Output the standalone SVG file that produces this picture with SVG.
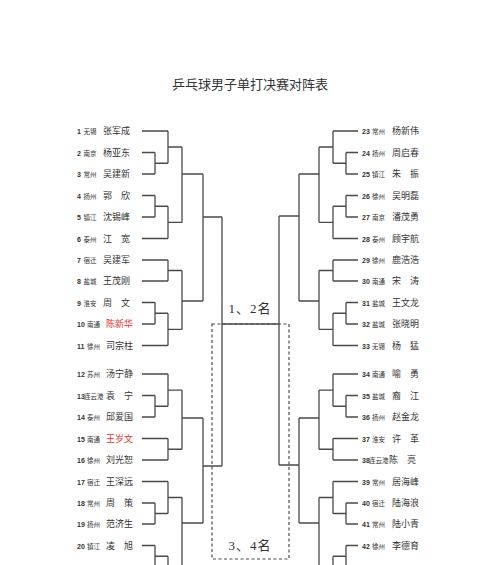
<svg xmlns="http://www.w3.org/2000/svg" width="500" height="565" viewBox="0 0 500 565">
<style>
text{font-family:"Noto Sans CJK SC","Liberation Sans",sans-serif;fill:#333}
.n{font-family:"Liberation Sans","Noto Sans CJK SC",sans-serif;font-weight:bold;font-size:7px}
.c{font-size:6.5px}
.m{font-size:9px}
.red{fill:#e8322d}
.title{font-size:13px;text-anchor:middle}
.lab{font-family:"Liberation Serif","Noto Sans CJK SC",serif;font-size:13px;text-anchor:middle;letter-spacing:1px}
.ln{fill:none;stroke:#4a4a4a;stroke-width:1.3}
.dash{fill:none;stroke:#4a4a4a;stroke-width:1.2;stroke-dasharray:3 2.5}
</style>
<rect width="500" height="565" fill="#fff"/>
<text class="title" x="250" y="89">乒乓球男子单打决赛对阵表</text>
<g id="connectors">
<path class="ln" d="M142 131H168 M142 152.5H155 M142 174H155 M155 152.5V174 M155 163.25H168 M168 131V163.25 M168 147H182
M142 195.5H155 M142 217H155 M155 195.5V217 M155 206.25H168 M142 238.5H168 M168 206.25V238.5 M168 222.4H182
M182 147V222.4 M182 174H203
M142 260H168 M142 281H168 M168 260V281 M168 270.5H182
M142 302.5H155 M142 324H155 M155 302.5V324 M155 313.25H168 M142 345.5H168 M168 313.25V345.5 M168 329.4H182
M182 270.5V329.4 M182 301H203
M203 174V301 M203 217H222
M142 374H168 M142 395.5H155 M142 417H155 M155 395.5V417 M155 406.25H168 M168 374V406.25 M168 390.1H182
M142 438.5H168 M142 460H168 M168 438.5V460 M168 449.25H182
M182 390.1V449.25 M182 418H203
M142 481.5H168 M142 503H155 M142 524H155 M155 503V524 M155 513.5H168 M168 481.5V513.5 M168 497.5H182
M142 545.5H155 M142 567H155 M155 545.5V567 M155 556.25H168 M142 588.5H168 M168 556.25V588.5 M168 572.4H182
M182 497.5V572.4 M182 523H203
M203 418V523 M203 466H222
M222 217V466
M222 324H279
M358 131H333 M358 152.5H346 M358 174H346 M346 152.5V174 M346 163.25H333 M333 131V163.25 M333 147H319
M358 195.5H346 M358 217H346 M346 195.5V217 M346 206.25H333 M358 238.5H333 M333 206.25V238.5 M333 222.4H319
M319 147V222.4 M319 174H299
M358 260H333 M358 281H333 M333 260V281 M333 270.5H319
M358 302.5H346 M358 324H346 M346 302.5V324 M346 313.25H333 M358 345.5H333 M333 313.25V345.5 M333 329.4H319
M319 270.5V329.4 M319 301H299
M299 174V301 M299 216H279
M358 374H333 M358 395.5H346 M358 417H346 M346 395.5V417 M346 406.25H333 M333 374V406.25 M333 390.1H319
M358 438.5H333 M358 460H333 M333 438.5V460 M333 449.25H319
M319 390.1V449.25 M319 418H299
M358 481.5H333 M358 503H346 M358 524H346 M346 503V524 M346 513.5H333 M333 481.5V513.5 M333 497.5H319
M358 545.5H346 M358 567H346 M346 545.5V567 M346 556.25H333 M358 588.5H333 M333 556.25V588.5 M333 572.4H319
M319 497.5V572.4 M319 523H299
M299 418V523 M299 465H279
M279 216V465"/>
<rect class="dash" x="212" y="324" width="77" height="235"/>
</g>
<g id="label-12"><text class="lab" x="250" y="313">1、2名</text></g>
<g id="label-34"><text class="lab" x="250" y="550">3、4名</text></g>
<g id="p1"><text y="134.2"><tspan class="n" x="77">1</tspan><tspan class="c" x="83.5">无锡</tspan><tspan class="m" x="103">张军成</tspan></text></g>
<g id="p2"><text y="155.7"><tspan class="n" x="77">2</tspan><tspan class="c" x="83.5">南京</tspan><tspan class="m" x="103">杨亚东</tspan></text></g>
<g id="p3"><text y="177.2"><tspan class="n" x="77">3</tspan><tspan class="c" x="83.5">常州</tspan><tspan class="m" x="103">吴建新</tspan></text></g>
<g id="p4"><text y="198.7"><tspan class="n" x="77">4</tspan><tspan class="c" x="83.5">扬州</tspan><tspan class="m" x="103">郭　欣</tspan></text></g>
<g id="p5"><text y="220.2"><tspan class="n" x="77">5</tspan><tspan class="c" x="83.5">镇江</tspan><tspan class="m" x="103">沈锡峰</tspan></text></g>
<g id="p6"><text y="241.7"><tspan class="n" x="77">6</tspan><tspan class="c" x="83.5">泰州</tspan><tspan class="m" x="103">江　宽</tspan></text></g>
<g id="p7"><text y="263.2"><tspan class="n" x="77">7</tspan><tspan class="c" x="83.5">宿迁</tspan><tspan class="m" x="103">吴建军</tspan></text></g>
<g id="p8"><text y="284.2"><tspan class="n" x="77">8</tspan><tspan class="c" x="83.5">盐城</tspan><tspan class="m" x="103">王茂刚</tspan></text></g>
<g id="p9"><text y="305.7"><tspan class="n" x="77">9</tspan><tspan class="c" x="83.5">淮安</tspan><tspan class="m" x="103">周　文</tspan></text></g>
<g id="p10"><text y="327.2"><tspan class="n" x="77">10</tspan><tspan class="c" x="87">南通</tspan><tspan class="m red" x="106">陈新华</tspan></text></g>
<g id="p11"><text y="348.7"><tspan class="n" x="77">11</tspan><tspan class="c" x="87">徐州</tspan><tspan class="m" x="106">司宗柱</tspan></text></g>
<g id="p12"><text y="377.2"><tspan class="n" x="77">12</tspan><tspan class="c" x="87">苏州</tspan><tspan class="m" x="106">汤宁静</tspan></text></g>
<g id="p13"><text y="398.7"><tspan class="n" x="77">13</tspan><tspan class="c" x="84">连云港</tspan><tspan class="m" x="106">袁　宁</tspan></text></g>
<g id="p14"><text y="420.2"><tspan class="n" x="77">14</tspan><tspan class="c" x="87">泰州</tspan><tspan class="m" x="106">邱爱国</tspan></text></g>
<g id="p15"><text y="441.7"><tspan class="n" x="77">15</tspan><tspan class="c" x="87">南通</tspan><tspan class="m red" x="106">王岁文</tspan></text></g>
<g id="p16"><text y="463.2"><tspan class="n" x="77">16</tspan><tspan class="c" x="87">徐州</tspan><tspan class="m" x="106">刘光恕</tspan></text></g>
<g id="p17"><text y="484.7"><tspan class="n" x="77">17</tspan><tspan class="c" x="87">宿迁</tspan><tspan class="m" x="106">王深远</tspan></text></g>
<g id="p18"><text y="506.2"><tspan class="n" x="77">18</tspan><tspan class="c" x="87">常州</tspan><tspan class="m" x="106">周　策</tspan></text></g>
<g id="p19"><text y="527.2"><tspan class="n" x="77">19</tspan><tspan class="c" x="87">扬州</tspan><tspan class="m" x="106">范济生</tspan></text></g>
<g id="p20"><text y="548.7"><tspan class="n" x="77">20</tspan><tspan class="c" x="87">镇江</tspan><tspan class="m" x="106">凌　旭</tspan></text></g>
<g id="p23"><text y="134.2"><tspan class="n" x="362">23</tspan><tspan class="c" x="372">常州</tspan><tspan class="m" x="392">杨新伟</tspan></text></g>
<g id="p24"><text y="155.7"><tspan class="n" x="362">24</tspan><tspan class="c" x="372">扬州</tspan><tspan class="m" x="392">周启春</tspan></text></g>
<g id="p25"><text y="177.2"><tspan class="n" x="362">25</tspan><tspan class="c" x="372">镇江</tspan><tspan class="m" x="392">朱　振</tspan></text></g>
<g id="p26"><text y="198.7"><tspan class="n" x="362">26</tspan><tspan class="c" x="372">徐州</tspan><tspan class="m" x="392">吴明磊</tspan></text></g>
<g id="p27"><text y="220.2"><tspan class="n" x="362">27</tspan><tspan class="c" x="372">南京</tspan><tspan class="m" x="392">潘茂勇</tspan></text></g>
<g id="p28"><text y="241.7"><tspan class="n" x="362">28</tspan><tspan class="c" x="372">泰州</tspan><tspan class="m" x="392">顾宇航</tspan></text></g>
<g id="p29"><text y="263.2"><tspan class="n" x="362">29</tspan><tspan class="c" x="372">徐州</tspan><tspan class="m" x="392">鹿浩浩</tspan></text></g>
<g id="p30"><text y="284.2"><tspan class="n" x="362">30</tspan><tspan class="c" x="372">南通</tspan><tspan class="m" x="392">宋　涛</tspan></text></g>
<g id="p31"><text y="305.7"><tspan class="n" x="362">31</tspan><tspan class="c" x="372">盐城</tspan><tspan class="m" x="392">王文龙</tspan></text></g>
<g id="p32"><text y="327.2"><tspan class="n" x="362">32</tspan><tspan class="c" x="372">盐城</tspan><tspan class="m" x="392">张晓明</tspan></text></g>
<g id="p33"><text y="348.7"><tspan class="n" x="362">33</tspan><tspan class="c" x="372">无锡</tspan><tspan class="m" x="392">杨　猛</tspan></text></g>
<g id="p34"><text y="377.2"><tspan class="n" x="362">34</tspan><tspan class="c" x="372">南通</tspan><tspan class="m" x="392">喻　勇</tspan></text></g>
<g id="p35"><text y="398.7"><tspan class="n" x="362">35</tspan><tspan class="c" x="372">盐城</tspan><tspan class="m" x="392">裔　江</tspan></text></g>
<g id="p36"><text y="420.2"><tspan class="n" x="362">36</tspan><tspan class="c" x="372">扬州</tspan><tspan class="m" x="392">赵金龙</tspan></text></g>
<g id="p37"><text y="441.7"><tspan class="n" x="362">37</tspan><tspan class="c" x="372">淮安</tspan><tspan class="m" x="392">许　革</tspan></text></g>
<g id="p38"><text y="463.2"><tspan class="n" x="362">38</tspan><tspan class="c" x="369">连云港</tspan><tspan class="m" x="389">陈　亮</tspan></text></g>
<g id="p39"><text y="484.7"><tspan class="n" x="362">39</tspan><tspan class="c" x="372">常州</tspan><tspan class="m" x="392">居海峰</tspan></text></g>
<g id="p40"><text y="506.2"><tspan class="n" x="362">40</tspan><tspan class="c" x="372">宿迁</tspan><tspan class="m" x="392">陆海浪</tspan></text></g>
<g id="p41"><text y="527.2"><tspan class="n" x="362">41</tspan><tspan class="c" x="372">常州</tspan><tspan class="m" x="392">陆小青</tspan></text></g>
<g id="p42"><text y="548.7"><tspan class="n" x="362">42</tspan><tspan class="c" x="372">徐州</tspan><tspan class="m" x="392">李德育</tspan></text></g>
</svg>
